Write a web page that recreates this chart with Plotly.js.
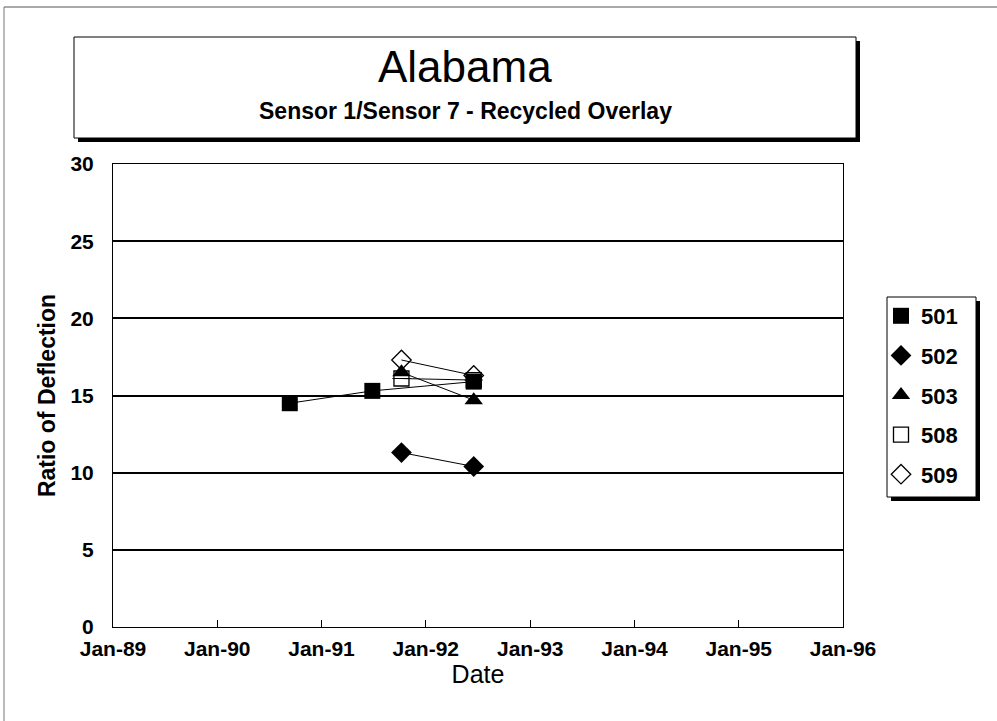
<!DOCTYPE html>
<html>
<head>
<meta charset="utf-8">
<script src="https://cdn.plot.ly/plotly-3.0.1.min.js"></script>
<style>
html,body{margin:0;padding:0;background:#fff;}
#chart{width:997px;height:721px;}
</style>
</head>
<body>
<div id="chart"></div>
<script>
// ---- data ----
const chartTitle = "Alabama";
const chartSubtitle = "Sensor 1/Sensor 7 - Recycled Overlay";
const xTitle = "Date";
const yTitle = "Ratio of Deflection";

const seriesNames = ["501", "502", "503", "508", "509"];

const dates501 = ["1990-09-12", "1991-06-28", "1992-06-17"];
const vals501  = [14.5, 15.3, 15.9];

const dates502 = ["1991-10-08", "1992-06-17"];
const vals502  = [11.3, 10.4];

const dates503 = ["1991-10-08", "1992-06-17"];
const vals503  = [16.5, 14.7];

const dates508 = ["1991-10-08", "1992-06-17"];
const vals508  = [16.1, 16.0];

const dates509 = ["1991-10-08", "1992-06-17"];
const vals509  = [17.3, 16.3];

const xTickVals = ["1989-01-01","1990-01-01","1991-01-01","1992-01-01","1993-01-01","1994-01-01","1995-01-01","1996-01-01"];
const xTickText = ["Jan-89","Jan-90","Jan-91","Jan-92","Jan-93","Jan-94","Jan-95","Jan-96"];
const yTickVals = [0, 5, 10, 15, 20, 25, 30];

// ---- geometry helpers (pixel -> paper) ----
const W = 997, H = 721;
const L = 113, R = 843, T = 164, B = 627;
const px = x => (x - L) / (R - L);
const py = y => (B - y) / (B - T);

const FONT = "Liberation Sans, Arial, sans-serif";

const series = [
  {x: dates501, y: vals501, name: seriesNames[0], marker: {symbol: "square", size: 16, color: "#000"}},
  {x: dates502, y: vals502, name: seriesNames[1], marker: {symbol: "diamond", size: 16, color: "#000"}},
  {x: dates503, y: vals503, name: seriesNames[2], marker: {symbol: "triangle-up", size: 16, color: "#000"}},
  {x: dates508, y: vals508, name: seriesNames[3], marker: {symbol: "square-open", size: 15, color: "#000", line: {width: 1.3}}},
  {x: dates509, y: vals509, name: seriesNames[4], marker: {symbol: "diamond-open", size: 15, color: "#000", line: {width: 1.3}}}
];

const traces = [];
// connecting lines (not shown in legend)
series.forEach((s, i) => {
  traces.push({x: s.x, y: s.y, name: s.name, mode: "lines", showlegend: false, legendgroup: "g" + i,
               line: {color: "#000", width: 1}});
});
// markers (legend entries)
series.forEach((s, i) => {
  traces.push({x: s.x, y: s.y, name: s.name, mode: "markers", legendgroup: "g" + i, marker: s.marker});
});
// horizontal bar inside the 508 open squares
traces.push({x: dates508, y: vals508, name: seriesNames[3], mode: "markers", showlegend: false, legendgroup: "g3",
             marker: {symbol: "line-ew-open", size: 13, color: "#000", line: {width: 1, color: "#000"}}});

const shapes = [
  // scan border
  {type: "line", xref: "paper", yref: "paper", x0: px(4), x1: px(997), y0: py(7), y1: py(7), line: {color: "#555", width: 1}},
  {type: "line", xref: "paper", yref: "paper", x0: px(4), x1: px(4), y0: py(7), y1: py(721), line: {color: "#777", width: 1}},
  // title box shadow + box
  {type: "rect", xref: "paper", yref: "paper", x0: px(78), x1: px(860), y0: py(41), y1: py(142), fillcolor: "#000", line: {width: 0}},
  {type: "rect", xref: "paper", yref: "paper", x0: px(74), x1: px(856), y0: py(37), y1: py(138), fillcolor: "#fff", line: {color: "#000", width: 1}},
  // legend box shadow + box
  {type: "rect", xref: "paper", yref: "paper", x0: px(891), x1: px(980), y0: py(301), y1: py(501), fillcolor: "#000", line: {width: 0}},
  {type: "rect", xref: "paper", yref: "paper", x0: px(887), x1: px(976), y0: py(297), y1: py(497), fillcolor: "#fff", line: {color: "#000", width: 1}}
];

const annotations = [
  {text: chartTitle, xref: "paper", yref: "paper", x: px(465), y: py(66), xanchor: "center", yanchor: "middle",
   showarrow: false, font: {family: FONT, size: 44, color: "#000"}},
  {text: "<b>" + chartSubtitle + "</b>", xref: "paper", yref: "paper", x: px(465), y: py(111), xanchor: "center", yanchor: "middle",
   showarrow: false, font: {family: FONT, size: 23, color: "#000"}}
];

const layout = {
  width: W, height: H,
  paper_bgcolor: "#fff", plot_bgcolor: "#fff",
  margin: {l: L, r: W - R, t: T, b: H - B, pad: 0},
  showlegend: true,
  legend: {
    x: px(881), y: py(295), xanchor: "left", yanchor: "top",
    bgcolor: "rgba(0,0,0,0)", borderwidth: 0,
    font: {family: FONT, size: 22, color: "#000", weight: "bold"},
    tracegroupgap: 8, itemwidth: 30
  },
  xaxis: {
    type: "date",
    range: ["1989-01-01", "1996-01-01"],
    tickvals: xTickVals, ticktext: xTickText,
    ticks: "inside", ticklen: 7, tickcolor: "#000", tickwidth: 1,
    showgrid: false, zeroline: false,
    showline: true, linecolor: "#000", linewidth: 1, mirror: true,
    tickfont: {family: FONT, size: 21, color: "#000", weight: "bold"},
    ticklabelstandoff: 3,
    title: {text: xTitle, font: {family: FONT, size: 25, color: "#000"}, standoff: 5}
  },
  yaxis: {
    range: [0, 30],
    tickvals: yTickVals,
    ticks: "", showgrid: true, gridcolor: "#000", gridwidth: 2,
    zeroline: false,
    showline: true, linecolor: "#000", linewidth: 1, mirror: true,
    tickfont: {family: FONT, size: 21, color: "#000", weight: "bold"},
    ticklabelstandoff: 14,
    title: {text: yTitle, font: {family: FONT, size: 23, color: "#000", weight: "bold"}, standoff: 8}
  },
  shapes: shapes,
  annotations: annotations
};

Plotly.newPlot("chart", traces, layout, {displayModeBar: false, staticPlot: true});
</script>
</body>
</html>
